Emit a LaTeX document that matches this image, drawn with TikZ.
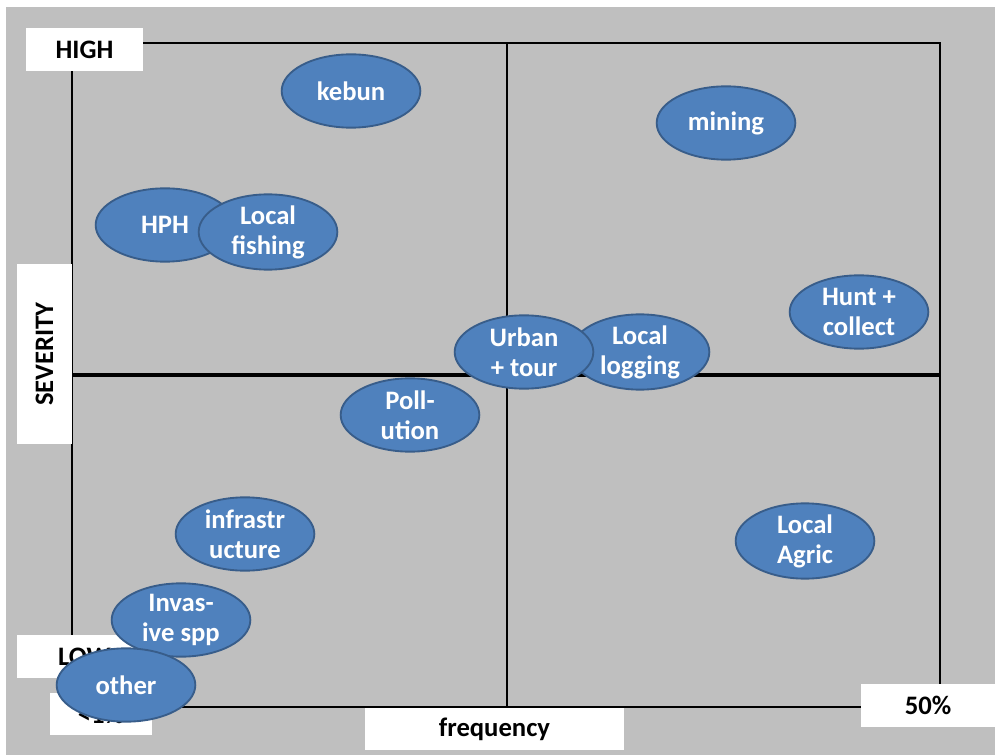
\documentclass[tikz,border=0pt]{standalone}
\usepackage{fontspec}
\setmainfont{Carlito}
\usetikzlibrary{shapes.geometric}
\definecolor{cccccc}{RGB}{191,191,191}
\definecolor{qqttbb}{RGB}{79,129,189}
\definecolor{qqzztt}{RGB}{56,93,138}

\begin{document}
\begin{tikzpicture}[x=0.75pt,y=-0.75pt,
	threat/.style={ellipse,draw=qqzztt,line width=1.4pt,fill=qqttbb,text=white,
		font=\fontsize{20}{22.5}\selectfont\bfseries,align=center,
		minimum width=104pt,minimum height=55pt,inner sep=0pt},
	tag/.style={fill=white,font=\fontsize{20}{22.5}\selectfont\bfseries,inner sep=0pt}]
	\useasboundingbox (0,0) rectangle (995,755);
	\fill [white] (0,0) rectangle (995,755);
	\fill [cccccc] (6,7) rectangle (995,755);
	% grid
	\coordinate (nw) at (72,43);
	\coordinate (se) at (940,707);
	\coordinate (midtop) at (507,43);
	\coordinate (midbot) at (507,707);
	\coordinate (midleft) at (72,375);
	\coordinate (midright) at (940,375);
	\draw [line width=1.5pt] (nw) rectangle (se);
	\draw [line width=1.5pt] (midtop) -- (midbot);
	\draw [line width=2.3pt] (midleft) -- (midright);
	% axis labels
	\node [tag,minimum width=88pt,minimum height=32pt] (high) at (84.5,49.5) {HIGH};
	\node [tag,minimum width=135pt,minimum height=41pt,rotate=90] (severity) at (44.5,354) {SEVERITY};
	\node [tag,minimum width=101pt,minimum height=32pt] (low) at (84.5,656.5) {LOW};
	\node [tag,minimum width=76pt,minimum height=32pt] (lowfreq) at (101,714) {<1\%};
	\node [tag,minimum width=194pt,minimum height=32pt] (freq) at (494.5,729) {frequency};
	\node [tag,minimum width=100pt,minimum height=32pt] (highfreq) at (928,705.5) {50\%};
	% threats
	\node [threat] (kebun) at (351,91) {kebun};
	\node [threat] (mining) at (726,123) {mining};
	\node [threat] (hph) at (165,225) {HPH};
	\node [threat] (fishing) at (268,232) {Local\\fishing};
	\node [threat] (hunt) at (859,312) {Hunt +\\collect};
	\node [threat] (logging) at (640,352) {Local\\logging};
	\node [threat] (urban) at (524,352) {Urban\\+ tour};
	\node [threat] (pollution) at (410,415) {Poll-\\ution};
	\node [threat] (infra) at (245,534) {infrastr\\ucture};
	\node [threat] (agric) at (805,541) {Local\\Agric};
	\node [threat] (invasive) at (181,620) {Invas-\\ive spp};
	\node [threat] (other) at (126,685) {other};
\end{tikzpicture}
\end{document}
